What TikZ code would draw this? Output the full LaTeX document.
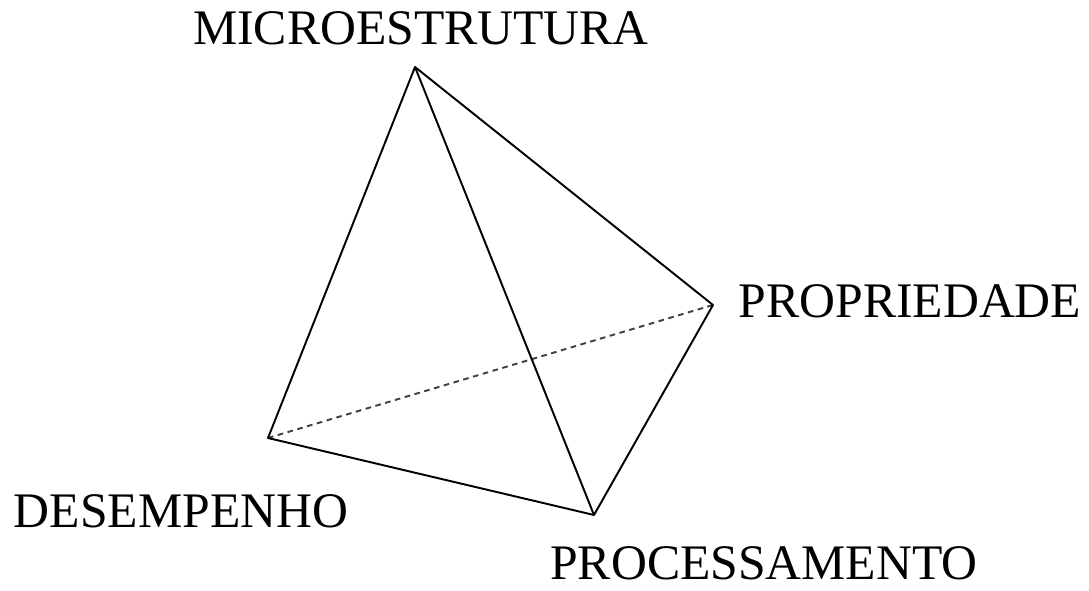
\documentclass[tikz,border=0pt]{standalone}
\usepackage{fontspec}
\setmainfont{Liberation Serif}
\begin{document}
\begin{tikzpicture}[x=0.02cm,y=-0.02cm,
    aresta/.style={line width=1.1pt,line join=round},
    oculta/.style={line width=1.1pt,dash pattern=on 3.2pt off 2.6pt,black!75},
    rotulo/.style={inner sep=0pt,font=\fontsize{28.3}{30}\selectfont}]
        \useasboundingbox (0,0) rectangle (1089,591);
        % Vertici
        \coordinate (micro) at (415,67);
        \coordinate (prop) at (713,305);
        \coordinate (desemp) at (268,438);
        \coordinate (proc) at (594,515);
        % Spigoli
        \draw [oculta] (desemp) -- (prop);
        \draw [aresta] (micro) -- (desemp) -- (proc) -- (prop) -- cycle;
        \draw [aresta] (micro) -- (proc);
        % Etichette
        \node [rotulo] (tmicro) at (421,28) {MICROESTRUTURA};
        \node [rotulo] (tprop) at (910,301) {PROPRIEDADE};
        \node [rotulo] (tdesemp) at (181,511) {DESEMPENHO};
        \node [rotulo] (tproc) at (764,563) {PROCESSAMENTO};
    \end{tikzpicture}
\end{document}
